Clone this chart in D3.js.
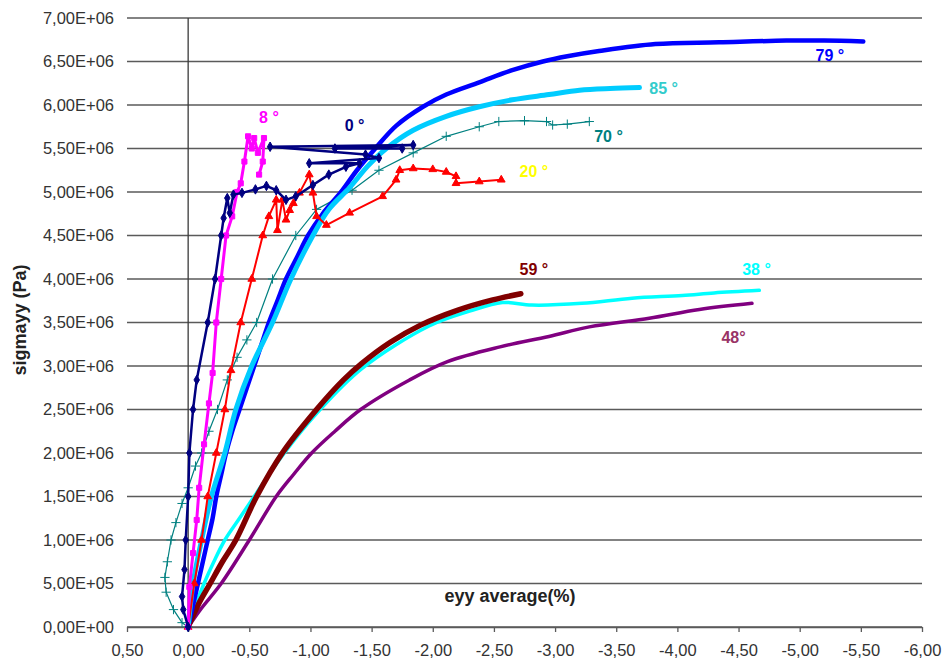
<!DOCTYPE html>
<html>
<head>
<meta charset="utf-8">
<script src="https://cdn.jsdelivr.net/npm/d3@7"></script>
<style>
  body { margin: 0; background: #fff; }
  text { font-family: "Liberation Sans", Arial, sans-serif; }
</style>
</head>
<body>
<div id="chart"></div>
<script>
// eyy average (%) vs sigmayy (Pa), one array per fibre angle
const deg0 = [[0,0],[0.04,0.2e6],[0.05,0.35e6],[0.03,0.66e6],[0.02,1.0e6],[0.0,1.5e6],[-0.01,2.0e6],[-0.04,2.5e6],[-0.07,2.84e6],
  [-0.16,3.5e6],[-0.22,4.0e6],[-0.27,4.5e6],[-0.29,4.7e6],[-0.32,4.93e6],[-0.34,4.76e6],[-0.37,4.97e6],[-0.44,4.99e6],[-0.55,5.03e6],
  [-0.64,5.07e6],[-0.72,5.02e6],[-0.80,4.91e6],[-0.88,4.95e6],[-1.02,5.08e6],[-1.15,5.2e6],[-1.29,5.29e6],[-1.4,5.33e6],[-0.99,5.33e6],
  [-1.56,5.39e6],[-1.45,5.43e6],[-0.67,5.52e6],[-1.84,5.54e6],[-1.2,5.5e6],[-1.75,5.5e6]];
const deg8 = [[0,0],[-0.01,0.46e6],[-0.04,0.85e6],[-0.07,1.23e6],[-0.09,1.6e6],[-0.13,2.1e6],[-0.17,2.57e6],[-0.20,2.92e6],
  [-0.23,3.5e6],[-0.27,4.0e6],[-0.31,4.5e6],[-0.36,4.72e6],[-0.40,5.0e6],[-0.43,5.1e6],[-0.46,5.35e6],[-0.49,5.64e6],[-0.52,5.5e6],
  [-0.54,5.62e6],[-0.57,5.45e6],[-0.62,5.62e6],[-0.61,5.35e6],[-0.58,5.2e6]];
const deg20 = [[0,0],[-0.05,0.5e6],[-0.11,1.0e6],[-0.16,1.5e6],[-0.23,2.0e6],[-0.30,2.5e6],[-0.35,2.95e6],[-0.43,3.5e6],[-0.52,4.0e6],
  [-0.61,4.5e6],[-0.66,4.72e6],[-0.72,4.91e6],[-0.73,4.56e6],[-0.77,4.91e6],[-0.80,4.68e6],[-0.83,4.79e6],[-0.86,4.87e6],[-0.91,4.99e6],
  [-0.99,5.2e6],[-1.02,4.99e6],[-1.05,4.72e6],[-1.13,4.62e6],[-1.32,4.76e6],[-1.59,4.95e6],[-1.70,5.14e6],[-1.73,5.25e6],[-1.84,5.27e6],
  [-2.0,5.26e6],[-2.11,5.23e6],[-2.19,5.18e6],[-2.19,5.1e6],[-2.38,5.12e6],[-2.56,5.14e6]];
const deg38 = [[0,0],[-0.06,0.25e6],[-0.13,0.5e6],[-0.21,0.75e6],[-0.30,1.0e6],[-0.42,1.25e6],[-0.54,1.5e6],[-0.77,1.97e6],[-1.06,2.47e6],
  [-1.42,2.97e6],[-1.97,3.46e6],[-2.3,3.63e6],[-2.57,3.73e6],[-2.81,3.70e6],[-3.22,3.72e6],[-3.63,3.78e6],[-4.04,3.81e6],[-4.3,3.84e6],[-4.67,3.87e6]];
const deg48 = [[0,0],[-0.1,0.2e6],[-0.27,0.5e6],[-0.50,1.0e6],[-0.72,1.5e6],[-0.86,1.75e6],[-1.01,2.0e6],[-1.20,2.25e6],[-1.41,2.5e6],
  [-1.81,2.84e6],[-2.12,3.05e6],[-2.55,3.22e6],[-2.95,3.34e6],[-3.28,3.45e6],[-3.77,3.55e6],[-4.18,3.65e6],[-4.61,3.72e6]];
const deg59 = [[0,0],[-0.08,0.25e6],[-0.18,0.5e6],[-0.28,0.75e6],[-0.39,1.0e6],[-0.56,1.5e6],[-0.77,2.0e6],[-1.05,2.5e6],[-1.27,2.84e6],
  [-1.42,3.03e6],[-1.65,3.27e6],[-1.90,3.47e6],[-2.2,3.64e6],[-2.49,3.76e6],[-2.72,3.83e6]];
const deg70 = [[0,0],[0.05,0.05e6],[0.12,0.2e6],[0.18,0.4e6],[0.19,0.57e6],[0.17,0.75e6],[0.14,1.0e6],[0.10,1.2e6],[0.05,1.42e6],
  [0.0,1.6e6],[-0.06,1.85e6],[-0.11,2.0e6],[-0.17,2.25e6],[-0.24,2.5e6],[-0.32,2.84e6],[-0.40,3.1e6],[-0.48,3.3e6],[-0.56,3.5e6],
  [-0.69,4.0e6],[-0.88,4.5e6],[-1.05,4.8e6],[-1.34,5.02e6],[-1.56,5.25e6],[-1.84,5.45e6],[-2.11,5.64e6],[-2.38,5.75e6],[-2.54,5.81e6],
  [-2.75,5.82e6],[-2.93,5.81e6],[-2.98,5.77e6],[-3.1,5.78e6],[-3.28,5.81e6]];
const deg79 = [[0,0],[-0.04,0.25e6],[-0.08,0.5e6],[-0.12,0.75e6],[-0.16,1.0e6],[-0.2,1.25e6],[-0.23,1.5e6],[-0.27,1.75e6],[-0.31,2.0e6],
  [-0.36,2.25e6],[-0.42,2.5e6],[-0.48,2.75e6],[-0.54,3.0e6],[-0.6,3.25e6],[-0.66,3.5e6],[-0.73,3.75e6],[-0.80,4.0e6],[-0.89,4.25e6],
  [-0.98,4.5e6],[-1.1,4.75e6],[-1.25,5.0e6],[-1.38,5.25e6],[-1.53,5.5e6],[-1.70,5.76e6],[-1.92,5.98e6],[-2.11,6.12e6],[-2.38,6.26e6],
  [-2.65,6.4e6],[-2.9,6.5e6],[-3.1,6.56e6],[-3.36,6.62e6],[-3.82,6.7e6],[-4.34,6.72e6],[-4.89,6.74e6],[-5.2,6.74e6],[-5.52,6.73e6]];
const deg85 = [[0,0],[-0.04,0.5e6],[-0.11,1.0e6],[-0.19,1.5e6],[-0.30,2.0e6],[-0.39,2.5e6],[-0.52,3.0e6],[-0.69,3.5e6],[-0.84,4.0e6],
  [-1.02,4.5e6],[-1.15,4.8e6],[-1.32,5.05e6],[-1.47,5.3e6],[-1.62,5.5e6],[-1.84,5.71e6],[-2.11,5.87e6],[-2.38,5.98e6],[-2.65,6.06e6],
  [-2.95,6.12e6],[-3.2,6.17e6],[-3.45,6.19e6],[-3.69,6.2e6]];

const eyyTicks = [0.5, 0, -0.5, -1, -1.5, -2, -2.5, -3, -3.5, -4, -4.5, -5, -5.5, -6];
const eyyTickLabels = ["0,50","0,00","-0,50","-1,00","-1,50","-2,00","-2,50","-3,00","-3,50","-4,00","-4,50","-5,00","-5,50","-6,00"];
const sigmaTicks = [0, 5e5, 1e6, 1.5e6, 2e6, 2.5e6, 3e6, 3.5e6, 4e6, 4.5e6, 5e6, 5.5e6, 6e6, 6.5e6, 7e6];
const sigmaTickLabels = ["0,00E+00","5,00E+05","1,00E+06","1,50E+06","2,00E+06","2,50E+06","3,00E+06","3,50E+06",
  "4,00E+06","4,50E+06","5,00E+06","5,50E+06","6,00E+06","6,50E+06","7,00E+06"];

// series in drawing order
const series = [
  {name: "70 °", data: deg70, color: "#008080", width: 1.2, marker: "plus", smooth: false},
  {name: "48°",  data: deg48, color: "#800080", width: 3.5, marker: null, smooth: true},
  {name: "38 °", data: deg38, color: "#00FFFF", width: 3.5, marker: null, smooth: true},
  {name: "59 °", data: deg59, color: "#800000", width: 5.5, marker: null, smooth: true},
  {name: "79 °", data: deg79, color: "#0000FF", width: 4.5, marker: null, smooth: true},
  {name: "85 °", data: deg85, color: "#00CCFF", width: 5, marker: null, smooth: true},
  {name: "20 °", data: deg20, color: "#FF0000", width: 2, marker: "triangle", smooth: false},
  {name: "8 °",  data: deg8,  color: "#FF00FF", width: 3, marker: "square", smooth: false},
  {name: "0 °",  data: deg0,  color: "#000080", width: 2.5, marker: "diamond", smooth: false}
];

// curve labels, anchored in data units
const labels = [
  {text: "8 °",  eyy: -0.58, sigma: 5.79e6, color: "#FF00FF"},
  {text: "0 °",  eyy: -1.28, sigma: 5.70e6, color: "#000080"},
  {text: "79 °", eyy: -5.13, sigma: 6.51e6, color: "#0000FF"},
  {text: "85 °", eyy: -3.77, sigma: 6.13e6, color: "#33CCCC"},
  {text: "70 °", eyy: -3.32, sigma: 5.58e6, color: "#008080"},
  {text: "20 °", eyy: -2.71, sigma: 5.17e6, color: "#FFFF00"},
  {text: "59 °", eyy: -2.71, sigma: 4.05e6, color: "#800000"},
  {text: "38 °", eyy: -4.53, sigma: 4.05e6, color: "#00FFFF"},
  {text: "48°",  eyy: -4.36, sigma: 3.26e6, color: "#993366"}
];

const W = 942, H = 664;
const plotLeft = 127, plotRight = 922, plotTop = 18, plotBottom = 627;

const svg = d3.select("#chart").append("svg")
  .attr("width", W).attr("height", H);

const x = d3.scaleLinear().domain([0.5, -6]).range([plotLeft, plotRight]);
const y = d3.scaleLinear().domain([0, 7e6]).range([plotBottom, plotTop]);

// horizontal gridlines
svg.append("g").selectAll("line")
  .data(sigmaTicks)
  .enter().append("line")
  .attr("x1", plotLeft).attr("x2", plotRight)
  .attr("y1", d => y(d)).attr("y2", d => y(d))
  .attr("stroke", "#5a5a5a").attr("stroke-width", 1.3);

// vertical axis line at eyy = 0
svg.append("line")
  .attr("x1", x(0)).attr("x2", x(0))
  .attr("y1", y(7e6)).attr("y2", y(0))
  .attr("stroke", "#3a3a3a").attr("stroke-width", 1.3);

// x axis
const xAxis = svg.append("g")
  .attr("transform", `translate(0,${plotBottom})`)
  .call(d3.axisBottom(x).tickValues(eyyTicks)
    .tickFormat((d, i) => eyyTickLabels[i]).tickSize(5).tickSizeOuter(0).tickPadding(12));
xAxis.select(".domain").attr("stroke", "#5a5a5a").attr("stroke-width", 1.3);
xAxis.selectAll(".tick line").attr("stroke", "#5a5a5a").attr("stroke-width", 1.3);
xAxis.selectAll("text").attr("font-size", "16.5px").attr("fill", "#333");

// y axis labels
const yAxis = svg.append("g")
  .attr("transform", `translate(${plotLeft},0)`)
  .call(d3.axisLeft(y).tickValues(sigmaTicks)
    .tickFormat((d, i) => sigmaTickLabels[i]).tickSize(0).tickPadding(13));
yAxis.select(".domain").remove();
yAxis.selectAll("text").attr("font-size", "16.5px").attr("fill", "#333");

// axis titles
svg.append("text")
  .attr("x", 510).attr("y", 602)
  .attr("text-anchor", "middle")
  .attr("font-size", "18px").attr("font-weight", "bold").attr("fill", "#222")
  .text("eyy average(%)");

svg.append("text")
  .attr("transform", "translate(26,320) rotate(-90)")
  .attr("text-anchor", "middle")
  .attr("font-size", "18px").attr("font-weight", "bold").attr("fill", "#222")
  .text("sigmayy (Pa)");

// series
const plot = svg.append("g");
const markerTypes = {
  diamond: d3.symbolDiamond,
  square: d3.symbolSquare,
  triangle: d3.symbolTriangle,
  plus: d3.symbolPlus || d3.symbolCross
};

series.forEach(s => {
  const line = d3.line()
    .x(d => x(d[0]))
    .y(d => y(d[1]))
    .curve(s.smooth ? d3.curveCatmullRom.alpha(0.5) : d3.curveLinear);

  plot.append("path")
    .datum(s.data)
    .attr("fill", "none")
    .attr("stroke", s.color)
    .attr("stroke-width", s.width)
    .attr("stroke-linejoin", "round")
    .attr("stroke-linecap", "round")
    .attr("d", line);

  if (s.marker) {
    const isPlus = s.marker === "plus";
    plot.append("g").selectAll("path")
      .data(s.data)
      .enter().append("path")
      .attr("transform", d => `translate(${x(d[0])},${y(d[1])})`)
      .attr("d", d3.symbol().type(markerTypes[s.marker]).size(isPlus ? 30 : 26))
      .attr("fill", isPlus ? "none" : s.color)
      .attr("stroke", s.color)
      .attr("stroke-width", 1);
  }
});

// curve labels
svg.append("g").selectAll("text")
  .data(labels)
  .enter().append("text")
  .attr("x", d => x(d.eyy))
  .attr("y", d => y(d.sigma))
  .attr("font-size", "16px").attr("font-weight", "bold")
  .attr("fill", d => d.color)
  .text(d => d.text);
</script>
</body>
</html>
